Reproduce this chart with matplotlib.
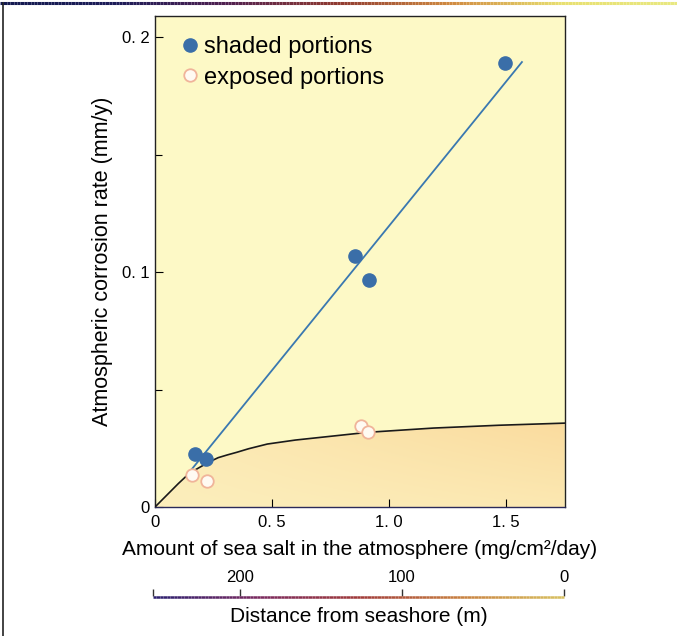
import numpy as np
import matplotlib
matplotlib.use("Agg")
import matplotlib.pyplot as plt
from matplotlib.collections import LineCollection
from matplotlib.colors import LinearSegmentedColormap
from matplotlib.lines import Line2D

plt.rcParams['font.family'] = ['Liberation Sans', 'DejaVu Sans']

# data
shaded_x = [0.17, 0.22, 0.855, 0.915, 1.495]
shaded_y = [0.0225, 0.0205, 0.107, 0.0965, 0.189]
exposed_x = [0.158, 0.222, 0.88, 0.91]
exposed_y = [0.0136, 0.011, 0.0345, 0.032]
fit_x = [0.137, 1.568]
fit_y = [0.0136, 0.1894]
curve_x = [0, 0.05, 0.10, 0.13, 0.17, 0.23, 0.27, 0.31, 0.35, 0.40, 0.48,
           0.60, 0.76, 0.91, 1.19, 1.47, 1.75]
curve_y = [0, 0.005, 0.010, 0.0128, 0.0157, 0.0191, 0.0210, 0.0222, 0.0233,
           0.0248, 0.0268, 0.0285, 0.0302, 0.0318, 0.0336, 0.0348, 0.0357]
salt_ticks = [0, 0.5, 1.0, 1.5]
salt_labels = ['0', '0. 5', '1. 0', '1. 5']
rate_ticks = [0, 0.1, 0.2]
rate_labels = ['0', '0. 1', '0. 2']
dist_ticks = [200, 100, 0]
dist_labels = ['200', '100', '0']

W, H = 677, 636
fig = plt.figure(figsize=(W / 100, H / 100), dpi=100)
fig.patch.set_facecolor('white')

ax = fig.add_axes([155 / W, 1 - 507 / H, 410 / W, 491 / H])
ax.set_xlim(0, 1.752)
ax.set_ylim(0, 0.209)
ax.set_facecolor('#fdf9c6')

# gradient fill under the curve
nx, ny = 200, 100
gx = np.linspace(0, 1, nx)
gy = np.linspace(0, 1, ny)[:, None]
c_light = np.array([0.99, 0.95, 0.76])
c_org = np.array([0.98, 0.86, 0.62])
t = (0.35 + 0.65 * gx[None, :]) * (0.45 + 0.55 * gy)
img = c_light + (c_org - c_light) * t[..., None]
poly = ax.fill_between(curve_x, curve_y, 0, color='none', lw=0)
im = ax.imshow(img, extent=[0, 1.752, 0, 0.036], origin='lower',
               aspect='auto', zorder=1)
im.set_clip_path(poly.get_paths()[0], transform=ax.transData)

ax.plot(curve_x, curve_y, color='#1a1a1a', lw=1.2, zorder=3)
ax.plot(fit_x, fit_y, color='#3a78b0', lw=1.3, zorder=3)
ax.plot(shaded_x, shaded_y, 'o', ms=9.5, color='#3a6ea8', mec='#3a6ea8',
        zorder=4)
ax.plot(exposed_x, exposed_y, 'o', ms=9, mfc='#fffaf2', mec='#f0b49a',
        mew=1.3, zorder=4)

ax.set_xticks(salt_ticks)
ax.set_xticklabels(salt_labels)
ax.set_yticks(rate_ticks)
ax.set_yticklabels(rate_labels)
ax.set_yticks([0.05, 0.15], minor=True)
ax.tick_params(direction='in', length=6, width=0.8, labelsize=12)
ax.tick_params(axis='x', pad=6)
ax.tick_params(axis='y', pad=4)
ax.tick_params(which='minor', direction='in', length=5, width=0.8)
for s in ax.spines.values():
    s.set_color('#222222')
    s.set_linewidth(1.0)
ax.spines['bottom'].set_color('#2a2a5a')

ax.set_xlabel('Amount of sea salt in the atmosphere (mg/cm²/day)', fontsize=15,
              labelpad=7)
ax.set_ylabel('Atmospheric corrosion rate (mm/y)', fontsize=15.5, labelpad=6)

handles = [Line2D([], [], ls='none', marker='o', ms=9.5, color='#3a6ea8'),
           Line2D([], [], ls='none', marker='o', ms=9, mfc='#fffaf2',
                  mec='#f0b49a', mew=1.3)]
ax.legend(handles, ['shaded portions', 'exposed portions'], loc='upper left',
          bbox_to_anchor=(0.045, 0.978), frameon=False, fontsize=17,
          handlelength=0.6, handletextpad=0.3, labelspacing=0.35,
          borderaxespad=0)

# distance scale below
ax2 = fig.add_axes([153 / W, 1 - 597 / H, 411 / W, 0.001])
ax2.set_xlim(253.7, 0)
ax2.set_ylim(0, 1)
ax2.patch.set_visible(False)
for s in ax2.spines.values():
    s.set_visible(False)
ax2.yaxis.set_visible(False)
ax2.xaxis.tick_top()
ax2.set_xticks(dist_ticks)
ax2.set_xticklabels(dist_labels)
ax2.set_xticks([253.7], minor=True)
ax2.tick_params(axis='x', which='both', direction='out', length=5, width=1,
                labelsize=12, pad=3, color='#333333')
ax2.set_xlabel('Distance from seashore (m)', fontsize=15, labelpad=7)
gcmap = LinearSegmentedColormap.from_list(
    'g', ['#2c2070', '#7a2a60', '#a03a3a', '#c88040', '#d8c060'])
xs = np.linspace(0, 1, 120)
segs = np.stack([np.c_[xs[:-1], np.zeros(119)], np.c_[xs[1:], np.zeros(119)]],
                axis=1)
lc = LineCollection(segs, cmap=gcmap, linewidths=1.8,
                    transform=ax2.transAxes, clip_on=False)
lc.set_array(xs[:-1])
ax2.add_collection(lc)

# frame of the picture
tcmap = LinearSegmentedColormap.from_list(
    't', ['#141a50', '#1c1c58', '#502050', '#903a30', '#d08a40', '#e8e070',
          '#e8e880'])
xs = np.linspace(0, 1, 200)
segs = np.stack([np.c_[xs[:-1], np.full(199, 1 - 3 / H)],
                 np.c_[xs[1:], np.full(199, 1 - 3 / H)]], axis=1)
tl = LineCollection(segs, cmap=tcmap, linewidths=2.2, transform=fig.transFigure)
tl.set_array(xs[:-1])
fig.add_artist(tl)
fig.add_artist(Line2D([3 / W, 3 / W], [0, 1 - 3 / H], color='#222222', lw=1.2,
                      transform=fig.transFigure))

fig.savefig('out.png', dpi=100)
